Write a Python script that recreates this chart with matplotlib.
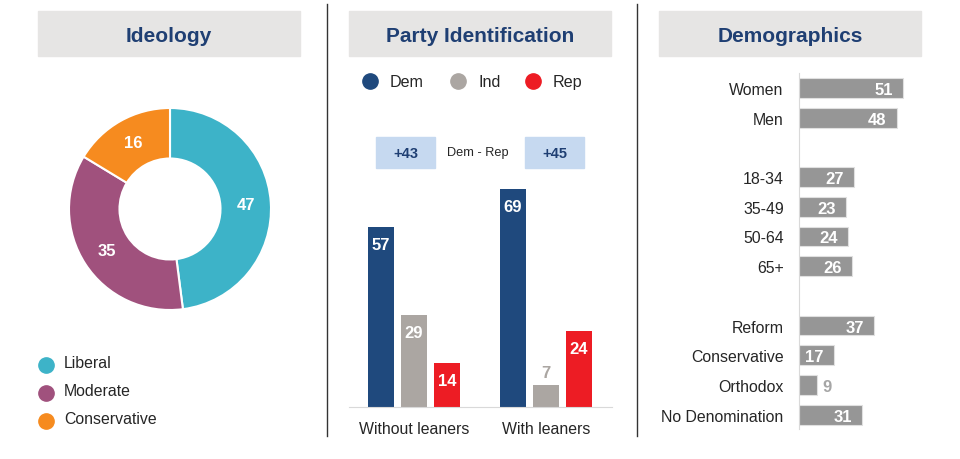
import numpy as np
import matplotlib.pyplot as plt
from matplotlib.patches import Rectangle

plt.rcParams['font.family'] = ['Liberation Sans', 'DejaVu Sans']

# ideology donut
ideo_labels = ["Liberal", "Moderate", "Conservative"]
ideo_values = [47, 35, 16]
ideo_colors = ["#3DB3C8", "#A0517D", "#F68B1F"]

# party identification
party_groups = ["Without leaners", "With leaners"]
party_names = ["Dem", "Ind", "Rep"]
party_values = {"Dem": [57, 69], "Ind": [29, 7], "Rep": [14, 24]}
party_colors = {"Dem": "#1F497D", "Ind": "#ABA6A2", "Rep": "#ED1C24"}
dem_rep_gap = ["+43", "+45"]

# demographics
demo_labels = ["Women", "Men", "18-34", "35-49", "50-64", "65+",
               "Reform", "Conservative", "Orthodox", "No Denomination"]
demo_values = [51, 48, 27, 23, 24, 26, 37, 17, 9, 31]
demo_rows = [0, 1, 3, 4, 5, 6, 8, 9, 10, 11]

W, H = 960, 460
fig = plt.figure(figsize=(W / 100, H / 100), dpi=100)


def px_axes(x0, y0, x1, y1):
    # axes from pixel box (top-left origin)
    return fig.add_axes([x0 / W, 1 - y1 / H, (x1 - x0) / W, (y1 - y0) / H])


def fx(x):
    return x / W


def fy(y):
    return 1 - y / H


title_col = "#1F3F73"
for x0, title in [(38, "Ideology"), (349, "Party Identification"), (659, "Demographics")]:
    fig.patches.append(Rectangle((fx(x0), fy(57)), 262 / W, 45 / H, transform=fig.transFigure,
                                 color="#E6E5E4", zorder=0))
    fig.text(fx(x0 + 131), fy(36), title, ha="center", va="center", fontsize=15,
             fontweight="bold", color=title_col)

for xl in [327, 637]:
    fig.add_artist(plt.Line2D([fx(xl), fx(xl)], [fy(5), fy(437)], color="#333333", lw=1))

# ---- donut
ax = px_axes(69, 109, 271, 311)
wedges, _ = ax.pie(ideo_values, colors=ideo_colors, startangle=90, counterclock=False,
                   radius=1, wedgeprops=dict(width=0.5, edgecolor="white", linewidth=1.5))
ax.set_xlim(-1, 1)
ax.set_ylim(-1, 1)
ax.set_aspect("equal")
ax.axis("off")
for w, v in zip(wedges, ideo_values):
    ang = np.deg2rad((w.theta1 + w.theta2) / 2)
    ax.text(0.75 * np.cos(ang), 0.75 * np.sin(ang), str(v), ha="center", va="center",
            color="white", fontsize=12, fontweight="bold")

for i, (lab, col) in enumerate(zip(ideo_labels, ideo_colors)):
    yy = 366 + i * 28
    fig.add_artist(plt.Line2D([fx(46)], [fy(yy)], marker="o", markersize=11, color=col, lw=0))
    fig.text(fx(64), fy(yy - 2), lab, ha="left", va="center", fontsize=11.4, color="#262626")

# ---- party bars
ax = px_axes(349, 155, 612, 408)
x = np.arange(len(party_groups))
unit = 132.0
ax.set_xlim((349 - 414) / unit, (612 - 414) / unit)
ax.set_ylim(0, 253 / 3.16)
bw = 26 / unit
for k, name in enumerate(party_names):
    vals = party_values[name]
    xs = x + (k - 1) * 33 / unit
    ax.bar(xs, vals, width=bw, color=party_colors[name])
    for xi, v in zip(xs, vals):
        if v >= 10:
            ax.text(xi, v - 3.2, str(v), ha="center", va="top", color="white",
                    fontsize=12, fontweight="bold")
        else:
            ax.text(xi, v + 1.5, str(v), ha="center", va="bottom", color=party_colors[name],
                    fontsize=12, fontweight="bold")
for s in ["top", "right", "left"]:
    ax.spines[s].set_visible(False)
ax.spines["bottom"].set_color("#D9D9D9")
ax.set_yticks([])
ax.set_xticks(x)
ax.set_xticklabels(party_groups, fontsize=11.4, color="#262626")
ax.tick_params(axis="x", length=0, pad=10)

for xc, name in zip([370, 458, 533], party_names):
    fig.add_artist(plt.Line2D([fx(xc)], [fy(82)], marker="o", markersize=11,
                              color=party_colors[name], lw=0))
    fig.text(fx(xc + 20), fy(83), name, ha="left", va="center", fontsize=11.6, color="#262626")

for x0, txt in zip([376, 525], dem_rep_gap):
    fig.patches.append(Rectangle((fx(x0), fy(169)), 59 / W, 31 / H, transform=fig.transFigure,
                                 color="#C6D9F0", zorder=0))
    fig.text(fx(x0 + 29.5), fy(154), txt, ha="center", va="center", fontsize=10.5,
             fontweight="bold", color="#1F3F73")
fig.text(fx(478), fy(153), "Dem - Rep", ha="center", va="center", fontsize=9.2, color="#262626")

# ---- demographics
ax = px_axes(799, 74, 940, 430)
ax.set_xlim(0, 141 / 2.04)
ax.set_ylim((430 - 89) / 29.7, (74 - 89) / 29.7)
ax.barh(demo_rows, demo_values, height=0.66, color="#969696", edgecolor="#E0E0E0", linewidth=0.8)
for r, v in zip(demo_rows, demo_values):
    if v >= 15:
        ax.text(v - 5.0, r + 0.05, str(v), ha="right", va="center", color="white",
                fontsize=12, fontweight="bold")
    else:
        ax.text(v + 2.5, r + 0.05, str(v), ha="left", va="center", color="#A6A6A6",
                fontsize=12, fontweight="bold")
for s in ["top", "right", "bottom"]:
    ax.spines[s].set_visible(False)
ax.spines["left"].set_color("#D9D9D9")
ax.set_xticks([])
ax.set_yticks(demo_rows)
ax.set_yticklabels(demo_labels, fontsize=11.4, color="#262626")
ax.tick_params(axis="y", length=0, pad=11)

fig.savefig("out.png", dpi=100)
